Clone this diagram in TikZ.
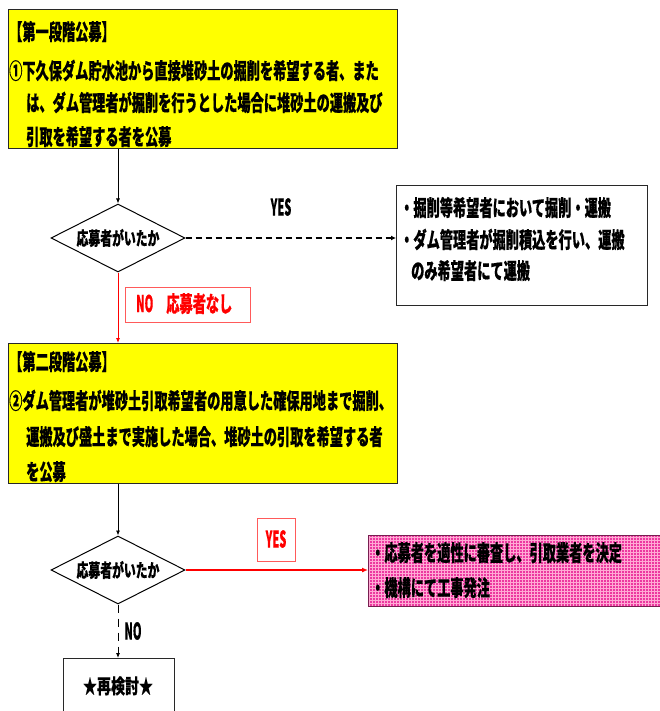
\documentclass[tikz,border=0pt]{standalone}
\usepackage{fontspec}
\setmainfont{Noto Sans CJK JP}[FakeStretch=0.6,FakeBold=0.35]
\newfontfamily\lat{Noto Sans CJK JP}[FakeStretch=0.48,FakeBold=0.3]
\newfontfamily\dfont{Noto Sans CJK JP}[FakeStretch=0.64,FakeBold=0.35]
\newfontfamily\sfont{Noto Sans CJK JP}[FakeStretch=0.7,FakeBold=0.35]
\usetikzlibrary{shapes.geometric,arrows.meta,patterns}
\definecolor{frame}{RGB}{40,40,40}
\definecolor{yel}{RGB}{255,255,0}
\definecolor{red1}{RGB}{255,0,0}
\definecolor{redframe}{RGB}{255,90,90}
\definecolor{pinkfill}{RGB}{236,56,160}
\definecolor{pinkgrid}{RGB}{255,170,212}
\definecolor{pinkframe}{RGB}{120,30,80}
\tikzset{
  box/.style={draw=frame, line width=0.8pt, inner sep=0pt, anchor=north west},
  txt/.style={anchor=base west, inner sep=0pt, font=\bfseries\fontsize{22}{24}\selectfont},
  dec/.style={diamond, draw=black, line width=1pt, fill=white, inner sep=0pt, aspect=2,
    minimum width=134pt, minimum height=68pt, font=\dfont\bfseries\fontsize{18.5}{20}\selectfont},
  arr/.style={-{Latex[length=5pt,width=4pt]}, line width=0.8pt},
  lab/.style={inner sep=0pt, font=\lat\bfseries\fontsize{23}{24}\selectfont},
  redbox/.style={draw=redframe, line width=0.8pt, fill=white, anchor=north west, inner sep=0pt},
}
\begin{document}
\begin{tikzpicture}[x=1pt,y=-1pt]
\useasboundingbox[fill=white] (0,0) rectangle (659,711);

% first stage box
\node[box, fill=yel, minimum width=389pt, minimum height=139pt] (p1) at (8,9) {};
\node[txt] (t11) at (9,40) {【第一段階公募】};
\node[txt] (t12) at (9,79) {①下久保ダム貯水池から直接堆砂土の掘削を希望する者、また};
\node[txt] (t13) at (26,111) {は、ダム管理者が掘削を行うとした場合に堆砂土の運搬及び};
\node[txt] (t14) at (26,145) {引取を希望する者を公募};

% first decision
\node[dec] (d1) at (118,238) {応募者がいたか};

% yes box 1
\node[box, minimum width=251pt, minimum height=120pt] (b2) at (396,185) {};
\node[txt] (t21) at (400,216) {・掘削等希望者において掘削・運搬};
\node[txt] (t22) at (400,248) {・ダム管理者が掘削積込を行い、運搬};
\node[txt] (t23) at (411,279) {のみ希望者にて運搬};
\node[lab] (yes1) at (281,207) {YES};

% no label 1
\node[redbox, minimum width=125pt, minimum height=35pt] (no1) at (125,287) {};
\node[txt, text=red1] (no1t) at (136,312) {{\lat\fontsize{23}{24}\selectfont NO}\hspace{13pt}応募者なし};

% second stage box
\node[box, fill=yel, minimum width=389pt, minimum height=140pt] (p3) at (8,343) {};
\node[txt] (t31) at (9,370) {【第二段階公募】};
\node[txt] (t32) at (9,409) {②ダム管理者が堆砂土引取希望者の用意した確保用地まで掘削、};
\node[txt] (t33) at (26,445) {運搬及び盛土まで実施した場合、堆砂土の引取を希望する者};
\node[txt] (t34) at (26,480) {を公募};

% second decision
\node[dec] (d2) at (118,570) {応募者がいたか};

% yes label 2
\node[redbox, minimum width=38pt, minimum height=43pt] (yes2) at (257,518) {};
\node[lab, text=red1] (yes2t) at (276,539) {YES};

% pink box
\node[anchor=north west, inner sep=0pt, minimum width=292pt, minimum height=71pt,
      draw=pinkframe, line width=0.8pt, preaction={fill=pinkfill},
      pattern=grid, pattern color=pinkgrid] (b4) at (368,535) {};
\node[txt] (t41) at (371,561) {・応募者を適性に審査し、引取業者を決定};
\node[txt] (t42) at (371,596) {・機構にて工事発注};

% reconsider box
\node[box, minimum width=111pt, minimum height=53pt] (b5) at (63,658) {};
\node[inner sep=0pt, font=\sfont\bfseries\fontsize{20}{22}\selectfont] (t5) at (118,686) {★再検討★};
\node[lab] (no2) at (133,631) {NO};

% connectors
\draw[arr] (d1.north |- p1.south) -- (d1.north);
\draw[arr, dash pattern=on 6pt off 4pt, line width=1.8pt, -{Latex[length=5pt,width=5pt]}] (d1.east) -- (d1.east -| b2.west);
\draw[arr, draw=red1, fill=red1] (d1.south) -- (d1.south |- p3.north);
\draw[arr] (d2.north |- p3.south) -- (d2.north);
\draw[arr, draw=red1, line width=1.8pt, -{Latex[length=6pt,width=5pt]}] (d2.east) -- (d2.east -| b4.west);
\draw[arr, dash pattern=on 8pt off 6pt] (d2.south) -- (d2.south |- b5.north);
\end{tikzpicture}
\end{document}
